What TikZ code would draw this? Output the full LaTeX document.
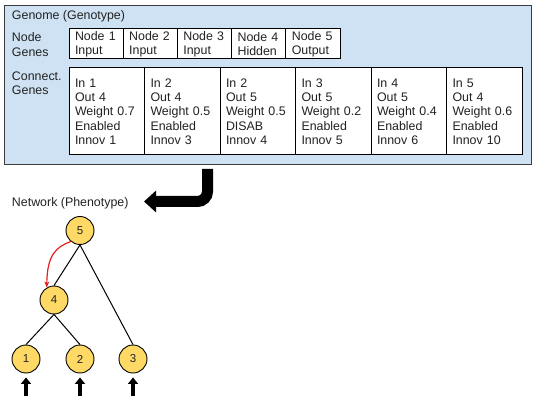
\documentclass[tikz,border=0pt]{standalone}
\usepackage{fontspec}
\setmainfont{Liberation Sans}
\usetikzlibrary{arrows.meta}
\definecolor{genomeblue}{RGB}{207,226,243}
\definecolor{genomeline}{RGB}{60,60,60}
\definecolor{nodeyellow}{RGB}{255,217,102}
\definecolor{redarrow}{RGB}{230,30,30}
\definecolor{textcol}{RGB}{34,34,34}
\begin{document}
\begin{tikzpicture}[x=1pt,y=-1pt,
  txt/.style={font=\fontsize{12.4pt}{14.3pt}\selectfont, text=textcol, inner sep=0pt, outer sep=0pt, align=left},
  cell/.style={draw=black, fill=white, line width=1pt, anchor=north west, outer sep=0pt, text=textcol,
    font=\fontsize{12.4pt}{14.3pt}\selectfont, align=left, inner xsep=6pt, inner ysep=0pt},
  ngcell/.style={cell, text width=42.2pt, minimum height=30pt},
  cgcell/.style={cell, text width=63.5pt, minimum height=87pt},
  neuron/.style={circle, draw=black, fill=nodeyellow, line width=0.9pt, minimum size=28pt,
    inner sep=0pt, text=textcol, font=\fontsize{11.5pt}{13pt}\selectfont},
  edge/.style={line width=1pt, black},
  inarrow/.style={line width=4pt, -{Triangle[length=6.5pt,width=10pt]}},
  bigarrow/.style={line width=11pt, rounded corners=10pt, -{Triangle[length=12pt,width=21pt]}},
  redcurve/.style={redarrow, line width=1.2pt, -{Stealth[length=6pt,width=5pt]}},
]
\useasboundingbox (0,0) rectangle (539,401);

% genome box
\node[draw=genomeline, fill=genomeblue, line width=1pt, anchor=north west, outer sep=0pt,
  inner sep=0pt, minimum width=527pt, minimum height=159pt] (genome) at (4,6) {};
\node[txt, anchor=west] (gtitle) at (12,16) {Genome (Genotype)};
\node[txt, anchor=west] (nglabel) at (12,44.5) {Node\\Genes};
\node[txt, anchor=west] (cglabel) at (12,83) {Connect.\\Genes};

% node genes
\node[ngcell] (ng1) at (69,29) {Node 1\\Input};
\node[ngcell] (ng2) at (123.2,29) {Node 2\\Input};
\node[ngcell] (ng3) at (177.4,29) {Node 3\\Input};
\node[ngcell] (ng4) at (231.6,29) {Node 4\\Hidden};
\node[ngcell] (ng5) at (285.8,29) {Node 5\\Output};

% connection genes
\node[cgcell] (cg1) at (69,68) {In 1\\Out 4\\Weight 0.7\\Enabled\\Innov 1};
\node[cgcell] (cg2) at (144.5,68) {In 2\\Out 4\\Weight 0.5\\Enabled\\Innov 3};
\node[cgcell] (cg3) at (220,68) {In 2\\Out 5\\Weight 0.5\\DISAB\\Innov 4};
\node[cgcell] (cg4) at (295.5,68) {In 3\\Out 5\\Weight 0.2\\Enabled\\Innov 5};
\node[cgcell] (cg5) at (371,68) {In 4\\Out 5\\Weight 0.4\\Enabled\\Innov 6};
\node[cgcell] (cg6) at (446.5,68) {In 5\\Out 4\\Weight 0.6\\Enabled\\Innov 10};

% big arrow
\coordinate (bigstart) at (207.5,169);
\coordinate (bigend) at (144,201.5);
\draw[bigarrow] (bigstart) |- (bigend);

\node[txt, anchor=west] (ntitle) at (12,203) {Network (Phenotype)};

% network
\node[neuron] (n5) at (80,230.5) {5};
\node[neuron] (n4) at (54,300) {4};
\node[neuron] (n1) at (26,359) {1};
\node[neuron] (n2) at (80,359) {2};
\node[neuron] (n3) at (133,359) {3};

\draw[edge] (n5.south) -- (n4.north);
\draw[edge] (n5.south) -- (n3.north);
\draw[edge] (n4.south) -- (n1.north);
\draw[edge] (n4.south) -- (n2.north);

\draw[redcurve] (n5.230) .. controls (56,247) and (47,255) .. (n4.120);

\coordinate (in1) at (26,396);
\coordinate (in2) at (80,396);
\coordinate (in3) at (133,396);
\draw[inarrow] (in1) -- ([yshift=-4pt]n1.south);
\draw[inarrow] (in2) -- ([yshift=-4pt]n2.south);
\draw[inarrow] (in3) -- ([yshift=-4pt]n3.south);
\end{tikzpicture}
\end{document}
